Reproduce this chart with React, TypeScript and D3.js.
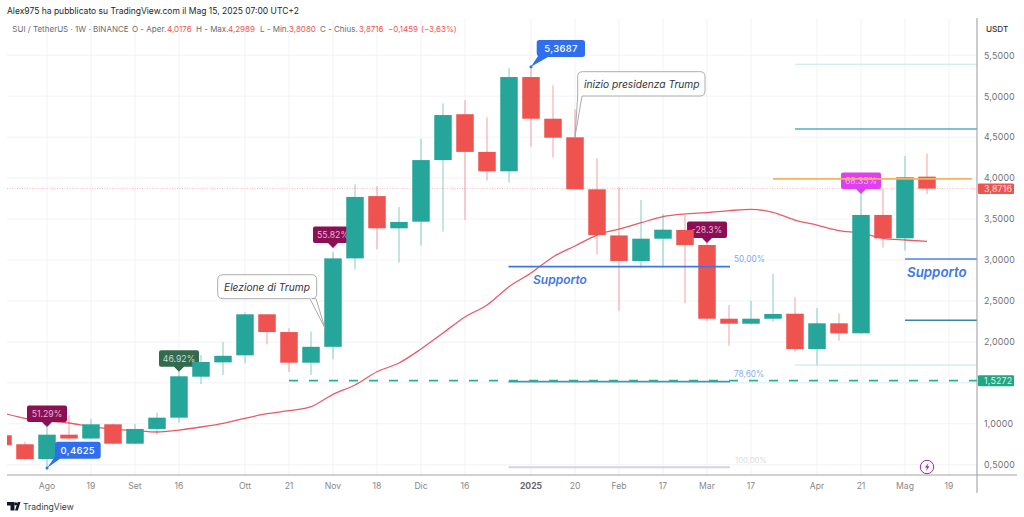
import * as d3 from "d3";

const opens = [0.86, 0.75, 0.57, 0.867, 0.82, 0.994, 0.757, 0.937, 1.075, 1.575, 1.75, 1.836, 2.337, 2.12, 1.746, 1.94, 3.02, 3.78, 3.387, 3.468, 4.22, 4.78, 4.32, 4.083, 5.234, 4.725, 4.498, 3.863, 3.3, 2.988, 3.26, 3.367, 3.183, 2.283, 2.222, 2.283, 2.344, 1.913, 2.227, 2.105, 3.55, 3.265, 4.0176];
const closes = [0.74, 0.57, 0.867, 0.82, 0.994, 0.757, 0.937, 1.075, 1.58, 1.755, 1.83, 2.337, 2.12, 1.746, 1.94, 3.02, 3.77, 3.387, 3.465, 4.22, 4.77, 4.32, 4.083, 5.234, 4.725, 4.493, 3.863, 3.305, 2.988, 3.26, 3.37, 3.183, 2.283, 2.222, 2.283, 2.341, 1.913, 2.227, 2.105, 3.55, 3.265, 4.01, 3.8716];
const highs = [0.89, 0.78, 0.985, 1.107, 1.06, 1.0, 0.995, 1.135, 1.636, 1.84, 2.0, 2.36, 2.34, 2.166, 2.125, 3.1, 3.924, 3.9, 3.647, 4.48, 4.913, 4.954, 4.742, 5.344, 5.3687, 5.133, 4.84, 4.242, 3.888, 3.733, 3.562, 3.55, 3.23, 2.45, 2.5, 2.83, 2.545, 2.414, 2.35, 3.85, 3.867, 4.27, 4.2989];
const lows = [0.72, 0.56, 0.4625, 0.81, 0.81, 0.75, 0.75, 0.867, 1.013, 1.486, 1.596, 1.74, 1.97, 1.632, 1.596, 1.79, 2.886, 3.13, 2.967, 3.175, 3.346, 3.488, 3.968, 3.944, 4.383, 4.254, 3.86, 3.065, 2.38, 2.9, 2.918, 2.475, 2.25, 1.954, 2.21, 2.247, 1.88, 1.71, 2.015, 2.1, 3.15, 3.114, 3.808];
const maValues = [1.13, 1.067, 1.034, 1.01, 0.965, 0.936, 0.916, 0.9, 0.924, 0.961, 1.006, 1.067, 1.123, 1.16, 1.209, 1.36, 1.474, 1.636, 1.742, 1.913, 2.109, 2.304, 2.451, 2.674, 2.841, 3.037, 3.171, 3.305, 3.378, 3.455, 3.529, 3.562, 3.578, 3.602, 3.619, 3.582, 3.488, 3.427, 3.358, 3.33, 3.265, 3.244, 3.228];

const xTickIndex = [2, 4, 6, 8, 11, 13, 15, 17, 19, 21, 24, 26, 28, 30, 32, 34, 37, 39, 41, 43];
const xTickLabels = ["Ago", "19", "Set", "16", "Ott", "21", "Nov", "18", "Dic", "16", "2025", "20", "Feb", "17", "Mar", "17", "Apr", "21", "Mag", "19"];
const yTicks = [0.5, 1, 1.5, 2, 2.5, 3, 3.5, 4, 4.5, 5, 5.5];

const percentTags = [
  { i: 2, value: 0.96, text: "51.29%", fill: "#8a0f55", color: "#e8b4d0" },
  { i: 8, value: 1.636, text: "46.92%", fill: "#33694f", color: "#c4dccb" },
  { i: 15, value: 3.146, text: "55.82%", fill: "#8a0f55", color: "#e8b4d0" },
  { i: 32, value: 3.207, text: "-28.3%", fill: "#8a0f55", color: "#e8b4d0" },
  { i: 39, value: 3.805, text: "68.35%", fill: "#e23df0", color: "#f6b8f4" },
];

const GREEN = "#26a69a";
const RED = "#ef5350";
const FONT = "Inter, 'Noto Sans', sans-serif";

const width = 1024;
const height = 517;
const paneLeft = 7;
const paneRight = 977;
const paneTop = 18;
const paneBottom = 475;

const x = d3.scaleLinear().domain([0, 42]).range([3, 927]);
const y = d3.scaleLinear().domain([0.5, 5.5]).range([464.75, 55.25]);

const maLine = d3.line<number>()
  .x((_, i) => x(i))
  .y(d => y(d))
  .curve(d3.curveMonotoneX);

const fmt = (v: number) => v.toFixed(4).replace(".", ",");

// etichetta con la punta verso il basso sopra la candela
function tagPath(cx: number, tip: number) {
  const w = 20, h = 16.5, r = 2;
  const bottom = tip - 5;
  const top = bottom - h;
  return `M${cx - w + r},${top} H${cx + w - r} Q${cx + w},${top} ${cx + w},${top + r} V${bottom - r} Q${cx + w},${bottom} ${cx + w - r},${bottom} H${cx + 5} L${cx},${tip} L${cx - 5},${bottom} H${cx - w + r} Q${cx - w},${bottom} ${cx - w},${bottom - r} V${top + r} Q${cx - w},${top} ${cx - w + r},${top} Z`;
}

export default function App() {
  const tv = y(3.8716);
  const support = y(1.5272);
  return (
    <svg width={width} height={height} style={{ position: "fixed", left: 0, top: 0, background: "#fff", fontFamily: FONT }}>
      <defs>
        <clipPath id="pane">
          <rect x={paneLeft} y={paneTop} width={paneRight - paneLeft} height={paneBottom - paneTop} />
        </clipPath>
      </defs>

      {/* griglia */}
      {xTickIndex.map(i => (
        <line key={i} x1={x(i)} x2={x(i)} y1={paneTop} y2={paneBottom} stroke="#f1f3f8" />
      ))}
      {yTicks.map(t => (
        <line key={t} x1={paneLeft} x2={paneRight} y1={y(t)} y2={y(t)} stroke="#f1f3f8" />
      ))}

      <line x1={paneLeft} x2={paneRight} y1={tv} y2={tv} stroke="#f7a9a8" strokeWidth={0.8} strokeDasharray="1 1.5" />

      <g clipPath="url(#pane)">
        <path d={maLine(maValues) ?? ""} fill="none" stroke="#ea5a66" strokeWidth={1.3} />

        {percentTags.map(t => (
          <path key={t.i} d={tagPath(x(t.i), y(t.value))} fill={t.fill} />
        ))}
        {percentTags.map(t => (
          <text key={t.i} x={x(t.i)} y={y(t.value) - 10.2} textAnchor="middle" fontSize={8.7} fill={t.color}>{t.text}</text>
        ))}

        {opens.map((o, i) => {
          const c = closes[i];
          const col = c >= o ? GREEN : RED;
          const top = y(Math.max(o, c));
          const bot = y(Math.min(o, c));
          return (
            <g key={i}>
              <line x1={x(i)} x2={x(i)} y1={y(highs[i])} y2={y(lows[i])} stroke={col} strokeOpacity={0.55} />
              <rect x={x(i) - 8.75} y={top} width={17.5} height={Math.max(bot - top, 1)} fill={col} />
            </g>
          );
        })}
      </g>

      {/* linee disegnate */}
      <line x1={795} x2={paneRight} y1={y(5.39)} y2={y(5.39)} stroke="#bfe8ee" strokeWidth={1.2} />
      <line x1={795} x2={paneRight} y1={y(4.6)} y2={y(4.6)} stroke="#5aa9cf" strokeWidth={1.6} />
      <line x1={905} x2={paneRight} y1={y(3.012)} y2={y(3.012)} stroke="#4a84ec" strokeWidth={1.6} />
      <line x1={905} x2={paneRight} y1={y(2.264)} y2={y(2.264)} stroke="#3a83a8" strokeWidth={1.4} />
      <line x1={795} x2={paneRight} y1={y(1.718)} y2={y(1.718)} stroke="#bfe8ee" strokeWidth={1.2} />
      <line x1={773} x2={972} y1={y(3.99)} y2={y(3.99)} stroke="#f6b25f" strokeWidth={1.6} />
      <line x1={508.5} x2={730} y1={y(2.918)} y2={y(2.918)} stroke="#3f76e6" strokeWidth={1.8} />
      <line x1={508.5} x2={730} y1={y(1.515)} y2={y(1.515)} stroke="#4296b8" strokeWidth={1.8} />
      <line x1={508.5} x2={730} y1={y(0.47)} y2={y(0.47)} stroke="#d6d6d8" strokeWidth={2} />
      <line x1={730} x2={paneRight} y1={y(1.5)} y2={y(1.5)} stroke="#dff3f6" strokeWidth={1} />
      <line x1={289} x2={paneRight} y1={support} y2={support} stroke="#2fae8c" strokeWidth={1.8} strokeDasharray="9 11" />

      <text x={734} y={262} fontSize={8.3} fill="#7fabef">50,00%</text>
      <text x={734} y={377} fontSize={8.3} fill="#7fb3e4">78,60%</text>
      <text x={735} y={463} fontSize={7.7} fill="#dcdcde">100,00%</text>

      <text x={533} y={283.5} fontSize={12} fontWeight={600} fontStyle="italic" fill="#3f76e6">Supporto</text>
      <text x={907} y={277} fontSize={13.3} fontWeight={600} fontStyle="italic" fill="#3f76e6">Supporto</text>

      {/* etichette blu */}
      <path d="M58,441.7 H98 Q100.7,441.7 100.7,444.4 V456 Q100.7,458.7 98,458.7 H60 L47,468 L54,458 Q55,457 55,455 V444.4 Q55,441.7 58,441.7 Z" fill="#2f6fed" />
      <circle cx={47} cy={468} r={1.5} fill="#2f6fed" />
      <text x={77.8} y={453.6} textAnchor="middle" fontSize={9.5} fontWeight={500} fill="#fff" letterSpacing={0.3}>0,4625</text>
      <path d="M539.5,40 H582.3 Q585,40 585,42.7 V54.3 Q585,57 582.3,57 H548 L531,66.7 L538,56 Q536.7,55 536.7,53 V42.7 Q536.7,40 539.5,40 Z" fill="#2f6fed" />
      <circle cx={531} cy={66.7} r={1.5} fill="#2f6fed" />
      <text x={561} y={51.8} textAnchor="middle" fontSize={9.5} fontWeight={500} fill="#fff" letterSpacing={0.3}>5,3687</text>

      {/* fumetti */}
      <path d="M223,274.7 H311.7 Q316.7,274.7 316.7,279.7 V293.7 Q316.7,298.7 311.7,298.7 H316 L325,328.3 L310,298.7 H223 Q217.7,298.7 217.7,293.7 V279.7 Q217.7,274.7 223,274.7 Z" fill="#fff" stroke="#a4a4a6" strokeWidth={0.9} />
      <text x={224} y={290.5} fontSize={10.2} fontStyle="italic" fill="#333">Elezione di Trump</text>
      <path d="M582.7,71.7 H700 Q705,71.7 705,76.7 V91 Q705,96 700,96 H582 L575,136.7 L577.7,96 V76.7 Q577.7,71.7 582.7,71.7 Z" fill="#fff" stroke="#a4a4a6" strokeWidth={0.9} />
      <text x={584} y={87.5} fontSize={10.2} fontStyle="italic" fill="#333">inizio presidenza Trump</text>

      {/* assi */}
      <line x1={paneLeft} x2={1017} y1={paneBottom} y2={paneBottom} stroke="#a3a3a6" strokeWidth={1.1} />
      <line x1={paneRight} x2={paneRight} y1={paneTop} y2={493} stroke="#a3a3a6" strokeWidth={1.1} />
      {xTickIndex.map((i, k) => (
        <text key={i} x={x(i)} y={488.5} textAnchor="middle" fontSize={8.6} fontWeight={xTickLabels[k] === "2025" ? 700 : 400} fill={xTickLabels[k] === "2025" ? "#666" : "#888"}>{xTickLabels[k]}</text>
      ))}
      {yTicks.filter(t => t !== 1.5).map(t => (
        <text key={t} x={984} y={y(t) + 3.3} fontSize={8.8} fill="#6f6f73" letterSpacing={0.2}>{fmt(t)}</text>
      ))}
      <text x={986} y={32} fontSize={8.2} fontWeight={500} fill="#333">USDT</text>

      <rect x={978} y={tv - 5.2} width={36} height={10.6} fill={RED} rx={1} />
      <text x={984} y={tv + 3.3} fontSize={8.8} fill="#fbe0df" letterSpacing={0.2}>{fmt(3.8716)}</text>
      <rect x={978} y={support - 5.4} width={36} height={11} fill="#22a784" rx={1} />
      <text x={984} y={support + 3.3} fontSize={8.8} fill="#d8f2ea" letterSpacing={0.2}>{fmt(1.5272)}</text>

      {/* icona */}
      <circle cx={927} cy={467} r={6.7} fill="#fff" stroke="#9c27b0" strokeWidth={1} />
      <path d="M928.5,463 L924.8,467.6 H927 L926,471 L929.5,466.3 H927.3 Z" fill="#9c27b0" />

      {/* intestazione */}
      <text x={7} y={13.5} fontSize={8.5} fill="#26262a">Alex975 ha pubblicato su TradingView.com il Mag 15, 2025 07:00 UTC+2</text>
      <g fontSize={8} fill="#6c6c70">
        <text x={12.3} y={31.5}>SUI / TetherUS · 1W · BINANCE</text>
        <text x={132} y={31.5}>O - Aper.</text>
        <text x={167} y={31.5} fill={RED}>4,0176</text>
        <text x={196} y={31.5}>H - Max.</text>
        <text x={228} y={31.5} fill={RED}>4,2989</text>
        <text x={260} y={31.5}>L - Min.</text>
        <text x={289} y={31.5} fill={RED}>3,8080</text>
        <text x={320} y={31.5}>C - Chius.</text>
        <text x={359} y={31.5} fill={RED}>3,8716</text>
        <text x={388} y={31.5} fill={RED}>−0,1459</text>
        <text x={421} y={31.5} fill={RED}>(−3,63%)</text>
      </g>

      {/* logo */}
      <path d="M7,502 H14.5 V510.5 H10.5 V505.5 H7 Z" fill="#131722" />
      <circle cx={15.8} cy={503.8} r={1.6} fill="#131722" />
      <path d="M15,510.5 L17.8,502 H20.5 L17.8,510.5 Z" fill="#131722" />
      <text x={23} y={510} fontSize={8.6} fill="#3a3a3e">TradingView</text>
    </svg>
  );
}
